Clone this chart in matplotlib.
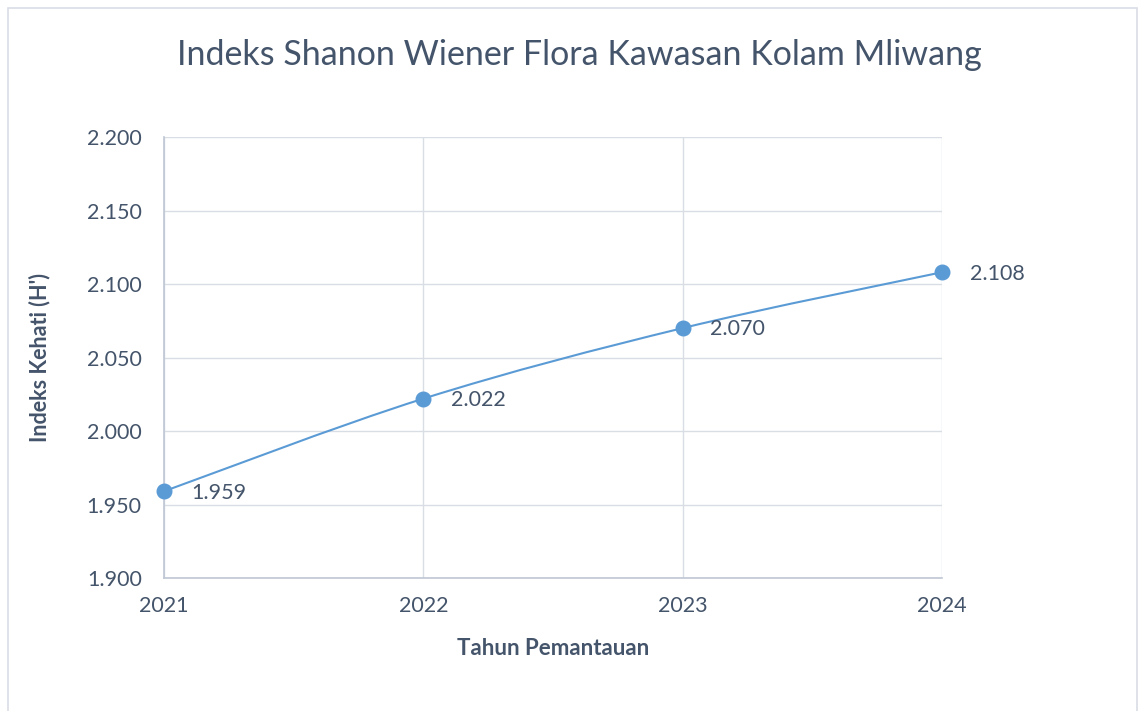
# Indeks Shanon Wiener - grafik garis gaya Excel
import matplotlib
matplotlib.use("Agg")
import matplotlib.pyplot as plt
from matplotlib.path import Path
from matplotlib.patches import PathPatch, Rectangle

tahun = ["2021", "2022", "2023", "2024"]
indeks = [1.959, 2.022, 2.070, 2.108]
label_nilai = ["1.959", "2.022", "2.070", "2.108"]
yticks = [1.900, 1.950, 2.000, 2.050, 2.100, 2.150, 2.200]

WARNA_TEKS = "#44546A"
WARNA_GARIS = "#5B9BD5"
WARNA_GRID = "#D9DDE4"

plt.rcParams["font.family"] = ["Lato", "DejaVu Sans"]

fig = plt.figure(figsize=(11.41, 7.11), dpi=100)
fig.patches.append(Rectangle((8 / 1141, -0.01), 1129 / 1141, 1 - 8 / 711 + 0.01,
                             transform=fig.transFigure, fill=False,
                             edgecolor="#D9DDE4", lw=1.2))
ax = fig.add_axes([164 / 1141, 1 - 578 / 711, (942 - 164) / 1141, (578 - 137) / 711])

x = list(range(len(tahun)))

# kurva halus (gaya Excel, Bezier dari titik data)
verts = [(x[0], indeks[0])]
codes = [Path.MOVETO]
for i in range(len(x) - 1):
    p0 = (x[max(i - 1, 0)], indeks[max(i - 1, 0)])
    p1 = (x[i], indeks[i])
    p2 = (x[i + 1], indeks[i + 1])
    p3 = (x[min(i + 2, len(x) - 1)], indeks[min(i + 2, len(x) - 1)])
    c1 = (p1[0] + (p2[0] - p0[0]) / 6, p1[1] + (p2[1] - p0[1]) / 6)
    c2 = (p2[0] - (p3[0] - p1[0]) / 6, p2[1] - (p3[1] - p1[1]) / 6)
    verts += [c1, c2, p2]
    codes += [Path.CURVE4] * 3
ax.add_patch(PathPatch(Path(verts, codes), fill=False, edgecolor=WARNA_GARIS,
                       lw=1.5, zorder=3, clip_on=False))
ax.plot(x, indeks, linestyle="none", marker="o", markersize=10.5,
        color=WARNA_GARIS, zorder=4, clip_on=False)

for xi, yi, t in zip(x, indeks, label_nilai):
    ax.annotate(t, (xi, yi), xytext=(20, -1), textcoords="offset points",
                ha="left", va="center", fontsize=15.5, color=WARNA_TEKS)

ax.set_xlim(0, len(x) - 1)
ax.set_ylim(1.900, 2.200)
ax.set_xticks(x)
ax.set_xticklabels(tahun)
ax.set_yticks(yticks)
ax.set_yticklabels([f"{v:.3f}" for v in yticks])
ax.tick_params(axis="both", length=0, labelsize=15.5, labelcolor=WARNA_TEKS)
ax.tick_params(axis="y", pad=16)
ax.tick_params(axis="x", pad=13)
ax.grid(True, color=WARNA_GRID, lw=1)
ax.set_axisbelow(True)
for s in ["top", "right"]:
    ax.spines[s].set_visible(False)
for s in ["left", "bottom"]:
    ax.spines[s].set_color("#BFC7D5")
    ax.spines[s].set_linewidth(1.2)

ax.set_xlabel("Tahun Pemantauan", fontsize=16, fontweight="bold",
              color=WARNA_TEKS, labelpad=16)
ax.set_ylabel("Indeks Kehati (H')", fontsize=15.5, fontweight="bold",
              color=WARNA_TEKS, labelpad=26)
fig.text(579 / 1141, 1 - 55 / 711, "Indeks Shanon Wiener Flora Kawasan Kolam Mliwang",
         ha="center", va="center", fontsize=24.5, color=WARNA_TEKS)

fig.savefig("out.png", dpi=100)
